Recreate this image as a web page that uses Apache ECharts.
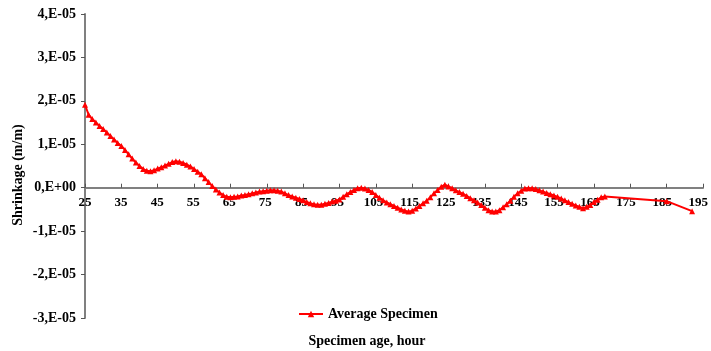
<!DOCTYPE html>
<html><head><meta charset="utf-8">
<script src="https://cdn.jsdelivr.net/npm/echarts@6/dist/echarts.min.js"></script>
<style>html,body{margin:0;padding:0;background:#fff}#c{width:711px;height:351px}</style>
</head><body><div id="c"></div>
<script>
// Specimen age (hours)
const hours = [25,26,27,28,29,30,31,32,33,34,35,36,37,38,39,40,41,42,43,44,45,46,47,48,49,50,
  51,52,53,54,55,56,57,58,59,60,61,62,63,64,65,66,67,68,69,70,71,72,73,74,75,76,77,78,79,80,
  81,82,83,84,85,86,87,88,89,90,91,92,93,94,95,96,97,98,99,100,101,102,103,104,105,106,107,108,109,110,
  111,112,113,114,115,116,117,118,119,120,121,122,123,124,125,126,127,128,129,130,131,132,133,134,135,136,137,138,139,140,
  141,142,143,144,145,146,147,148,149,150,151,152,153,154,155,156,157,158,159,160,161,162,163,164,165,166,167,168,185,192];
// Shrinkage in units of 1E-05 m/m
const shrinkage = [1.91,1.68,1.58,1.50,1.42,1.35,1.27,1.19,1.11,1.03,0.96,0.87,0.77,0.67,0.58,0.50,0.43,0.39,0.38,0.40,0.44,0.47,0.51,0.55,0.59,0.61,
  0.60,0.57,0.53,0.49,0.43,0.37,0.31,0.22,0.13,0.04,-0.04,-0.11,-0.17,-0.21,-0.22,-0.21,-0.20,-0.18,-0.17,-0.15,-0.13,-0.11,-0.09,-0.08,-0.07,-0.06,-0.06,-0.07,-0.09,-0.13,
  -0.17,-0.20,-0.23,-0.26,-0.29,-0.33,-0.36,-0.38,-0.39,-0.39,-0.37,-0.35,-0.32,-0.30,-0.27,-0.21,-0.15,-0.10,-0.05,-0.01,0.00,-0.02,-0.05,-0.10,-0.17,-0.23,-0.29,-0.34,-0.38,-0.42,
  -0.46,-0.50,-0.53,-0.55,-0.53,-0.48,-0.42,-0.36,-0.30,-0.22,-0.13,-0.05,0.02,0.07,0.03,-0.01,-0.06,-0.10,-0.14,-0.19,-0.24,-0.29,-0.34,-0.40,-0.46,-0.52,-0.55,-0.55,-0.52,-0.45,
  -0.38,-0.30,-0.21,-0.13,-0.07,-0.02,-0.01,-0.01,-0.03,-0.06,-0.09,-0.12,-0.15,-0.18,-0.21,-0.25,-0.29,-0.33,-0.37,-0.41,-0.44,-0.47,-0.44,-0.40,-0.33,-0.28,-0.22,-0.20,-0.31,-0.54];
const xMin = 25, xMax = 195, xStep = 10;
const yMin = -3, yMax = 4, yStep = 1;
const seriesName = 'Average Specimen';
const xTitle = 'Specimen age, hour';
const yTitle = 'Shrinkage (m/m)';

const FONT = '"Liberation Serif","Times New Roman",serif';
const chart = echarts.init(document.getElementById('c'));
const pts = hours.map((h, i) => [h, shrinkage[i]]);
// plot area: top 14 .. bottom 318 (304px for 7 units); zero line at 14 + 4/7*304
const plotTop = 14, plotH = 304;
const zeroH = Math.round(plotH * yMax / (yMax - yMin));
chart.setOption({
  animation: false,
  grid: [
    {left: 85, right: 8, top: plotTop, height: plotH, containLabel: false},
    {left: 85, right: 8, top: plotTop, height: zeroH, containLabel: false}
  ],
  xAxis: [{
    gridIndex: 0, type: 'value', min: xMin, max: xMax, interval: xStep,
    axisLine: {onZero: true, lineStyle: {color: '#808080', width: 2}},
    axisTick: {inside: true, length: 4, lineStyle: {color: '#555', width: 1}},
    axisLabel: {show: false},
    splitLine: {show: false}
  }, {
    gridIndex: 1, type: 'value', min: xMin, max: xMax, interval: xStep,
    axisLine: {show: false}, axisTick: {show: false},
    axisLabel: {margin: 8, color: '#000', fontFamily: FONT, fontWeight: 'bold', fontSize: 13},
    splitLine: {show: false}
  }],
  yAxis: [{
    gridIndex: 0, type: 'value', min: yMin, max: yMax, interval: yStep,
    axisLine: {show: true, lineStyle: {color: '#808080', width: 2}},
    axisTick: {show: true, length: 4, lineStyle: {color: '#555', width: 1}},
    axisLabel: {margin: 9, color: '#000', fontFamily: FONT, fontWeight: 'bold', fontSize: 14,
      formatter: v => v === 0 ? '0,E+00' : (v + ',E-05')},
    splitLine: {show: false}
  }, {
    gridIndex: 1, type: 'value', min: 0, max: yMax, show: false
  }],
  legend: {
    left: 298, top: 307, padding: 0, itemWidth: 24, itemHeight: 8, itemGap: 10,
    textStyle: {color: '#000', fontFamily: FONT, fontWeight: 'bold', fontSize: 14},
    data: [seriesName]
  },
  series: [{
    name: seriesName, type: 'line', data: pts, xAxisIndex: 0, yAxisIndex: 0,
    symbol: 'triangle', symbolSize: 6, z: 5,
    lineStyle: {color: '#ff0000', width: 2},
    itemStyle: {color: '#ff0000'}
  }],
  graphic: [
    {type: 'text', x: 367, y: 341, style: {text: xTitle, fill: '#000', font: 'bold 14px ' + FONT, align: 'center', verticalAlign: 'middle'}},
    {type: 'text', x: 18, y: 175, rotation: Math.PI / 2, style: {text: yTitle, fill: '#000', font: 'bold 14px ' + FONT, align: 'center', verticalAlign: 'middle'}}
  ]
});
</script></body></html>
